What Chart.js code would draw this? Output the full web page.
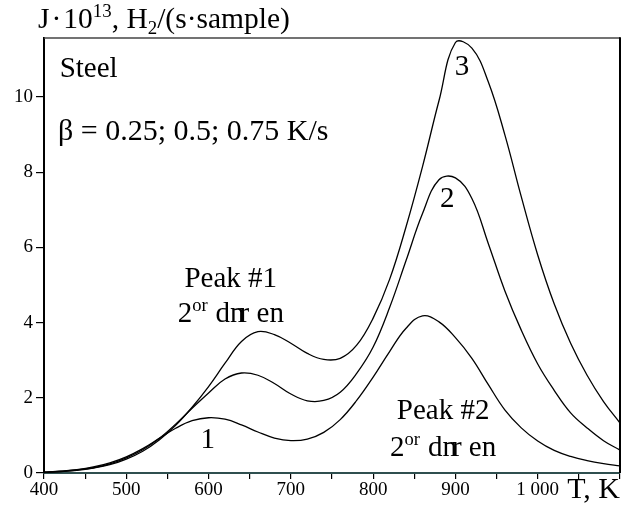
<!DOCTYPE html>
<html>
<head>
<meta charset="utf-8">
<script src="https://cdn.jsdelivr.net/npm/chart.js@4.4.0/dist/chart.umd.min.js"></script>
<style>
  html, body { margin: 0; padding: 0; background: #fff; }
  #wrap { width: 628px; height: 506px; }
</style>
</head>
<body>
<div id="wrap"><canvas id="tds"></canvas></div>
<script>
// temperature grid, K
const temps = [400,420,440,460,480,500,520,540,560,580,600,620,640,660,680,700,720,740,760,780,
               800,820,840,860,880,900,920,940,960,980,1000,1020,1040,1060,1080,1100];
// J*10^13 for beta = 0.25, 0.5, 0.75 K/s (curves 1, 2, 3)
const curve1 = [0.02,0.05,0.09,0.16,0.27,0.43,0.65,0.92,1.19,1.39,1.47,1.43,1.28,1.09,0.93,0.86,0.90,1.08,1.42,1.93,
                2.55,3.23,3.85,4.18,4.02,3.60,3.05,2.35,1.68,1.20,0.85,0.60,0.44,0.33,0.25,0.19];
const curve2 = [0.02,0.04,0.08,0.14,0.24,0.40,0.62,0.92,1.30,1.72,2.13,2.50,2.66,2.60,2.38,2.10,1.92,1.93,2.15,2.65,
                3.35,4.40,5.65,6.90,7.80,7.85,7.30,6.10,4.85,3.80,2.90,2.20,1.60,1.20,0.86,0.61];
const curve3 = [0.02,0.04,0.07,0.13,0.22,0.37,0.58,0.88,1.27,1.75,2.30,2.92,3.50,3.76,3.68,3.45,3.18,3.02,3.05,3.40,
                4.12,5.15,6.55,8.15,9.90,11.45,11.30,10.40,9.00,7.35,5.80,4.50,3.45,2.60,1.90,1.33];
const xTicks = [400,500,600,700,800,900,1000];
const yTicks = [0,2,4,6,8,10];

const serif = '"Liberation Serif", "DejaVu Serif", serif';

function toPoints(ys) {
    return temps.map((t, i) => ({x: t, y: ys[i]}));
}

function lineSet(ys) {
    return {
        data: toPoints(ys),
        borderColor: '#000',
        borderWidth: 1.3,
        pointRadius: 0,
        tension: 0.4,
        fill: false
    };
}

// draws a run of text pieces; each piece may be raised (sup) or lowered (sub)
function drawRich(ctx, x, y, parts, size) {
    let cx = x;
    parts.forEach(p => {
        let s = p.sup || p.sub ? size * 0.64 : size;
        let dy = p.sup ? -size * 0.38 : (p.sub ? size * 0.2 : 0);
        ctx.font = s + 'px ' + serif;
        ctx.fillText(p.t, cx, y + dy);
        cx += ctx.measureText(p.t).width + (p.gap || 0);
    });
    return cx - x;
}

function richWidth(ctx, parts, size) {
    let w = 0;
    parts.forEach(p => {
        let s = p.sup || p.sub ? size * 0.64 : size;
        ctx.font = s + 'px ' + serif;
        w += ctx.measureText(p.t).width + (p.gap || 0);
    });
    return w;
}

const diffParts = [{t: '2'}, {t: 'or', sup: true, gap: 8}, {t: 'd'}, {t: 'n', gap: -5}, {t: 'r'}, {t: ' en'}];

const annotations = {
    id: 'annotations',
    afterDraw(chart) {
        const ctx = chart.ctx;
        const xs = chart.scales.x, ys = chart.scales.y;
        const a = chart.chartArea;
        ctx.save();

        // frame: top and right edges
        ctx.strokeStyle = '#444';
        ctx.lineWidth = 1.5;
        ctx.beginPath();
        ctx.moveTo(a.left, a.top);
        ctx.lineTo(a.right, a.top);
        ctx.stroke();
        ctx.strokeStyle = '#000';
        ctx.lineWidth = 2;
        ctx.beginPath();
        ctx.moveTo(a.right, a.top - 0.75);
        ctx.lineTo(a.right, a.bottom);
        ctx.stroke();

        ctx.fillStyle = '#000';
        ctx.textBaseline = 'alphabetic';
        ctx.textAlign = 'left';

        // axis titles
        drawRich(ctx, 38, 28, [
            {t: 'J', gap: 2}, {t: '·', gap: 2}, {t: '10'}, {t: '13', sup: true},
            {t: ', H'}, {t: '2', sub: true}, {t: '/(s·sample)'}
        ], 29.5);
        ctx.font = '30px ' + serif;
        ctx.textAlign = 'right';
        ctx.fillText('T, K', 620, 498);
        ctx.textAlign = 'left';

        // in-plot notes
        ctx.font = '29px ' + serif;
        ctx.fillText('Steel', xs.getPixelForValue(419), ys.getPixelForValue(10.53));
        ctx.font = '30px ' + serif;
        ctx.fillText('β = 0.25; 0.5; 0.75 K/s', xs.getPixelForValue(417), ys.getPixelForValue(8.86));

        ctx.font = '29px ' + serif;
        ctx.textAlign = 'center';
        ctx.fillText('Peak #1', xs.getPixelForValue(627), ys.getPixelForValue(4.95));
        ctx.fillText('Peak #2', xs.getPixelForValue(885), ys.getPixelForValue(1.44));
        ctx.fillText('1', xs.getPixelForValue(599), ys.getPixelForValue(0.66));
        ctx.fillText('2', xs.getPixelForValue(890), ys.getPixelForValue(7.07));
        ctx.fillText('3', xs.getPixelForValue(908), ys.getPixelForValue(10.59));
        ctx.textAlign = 'left';

        let w = richWidth(ctx, diffParts, 29);
        drawRich(ctx, xs.getPixelForValue(627) - w / 2, ys.getPixelForValue(4.02), diffParts, 29);
        drawRich(ctx, xs.getPixelForValue(885) - w / 2, ys.getPixelForValue(0.45), diffParts, 29);

        ctx.restore();
    }
};

new Chart(document.getElementById('tds'), {
    type: 'line',
    data: {
        datasets: [lineSet(curve1), lineSet(curve2), lineSet(curve3)]
    },
    options: {
        responsive: true,
        maintainAspectRatio: false,
        animation: false,
        layout: { padding: { left: 0, top: 38, right: 8, bottom: 0 } },
        plugins: {
            legend: { display: false },
            tooltip: { enabled: false }
        },
        scales: {
            x: {
                type: 'linear',
                min: 400,
                max: 1100,
                afterFit: s => { s.height = 33; },
                afterBuildTicks: s => {
                    s.ticks = [];
                    for (let v = 400; v <= 1100; v += 50) s.ticks.push({value: v});
                },
                ticks: {
                    autoSkip: false,
                    maxRotation: 0,
                    padding: 0,
                    color: '#000',
                    font: { family: serif, size: 19 },
                    callback: v => xTicks.includes(v) ? (v >= 1000 ? '1 000' : String(v)) : ''
                },
                grid: { drawOnChartArea: false, tickLength: 6, color: '#000', lineWidth: 1.2 },
                border: { color: '#2f4f4f', width: 2 }
            },
            y: {
                min: 0,
                max: 11.57,
                afterFit: s => { s.width = 44; },
                afterBuildTicks: s => { s.ticks = yTicks.map(v => ({value: v})); },
                ticks: {
                    padding: 3,
                    color: '#000',
                    font: { family: serif, size: 19 }
                },
                grid: { drawOnChartArea: false, tickLength: 8, color: '#000', lineWidth: 1.2 },
                border: { color: '#000', width: 2 }
            }
        }
    },
    plugins: [annotations]
});
</script>
</body>
</html>
